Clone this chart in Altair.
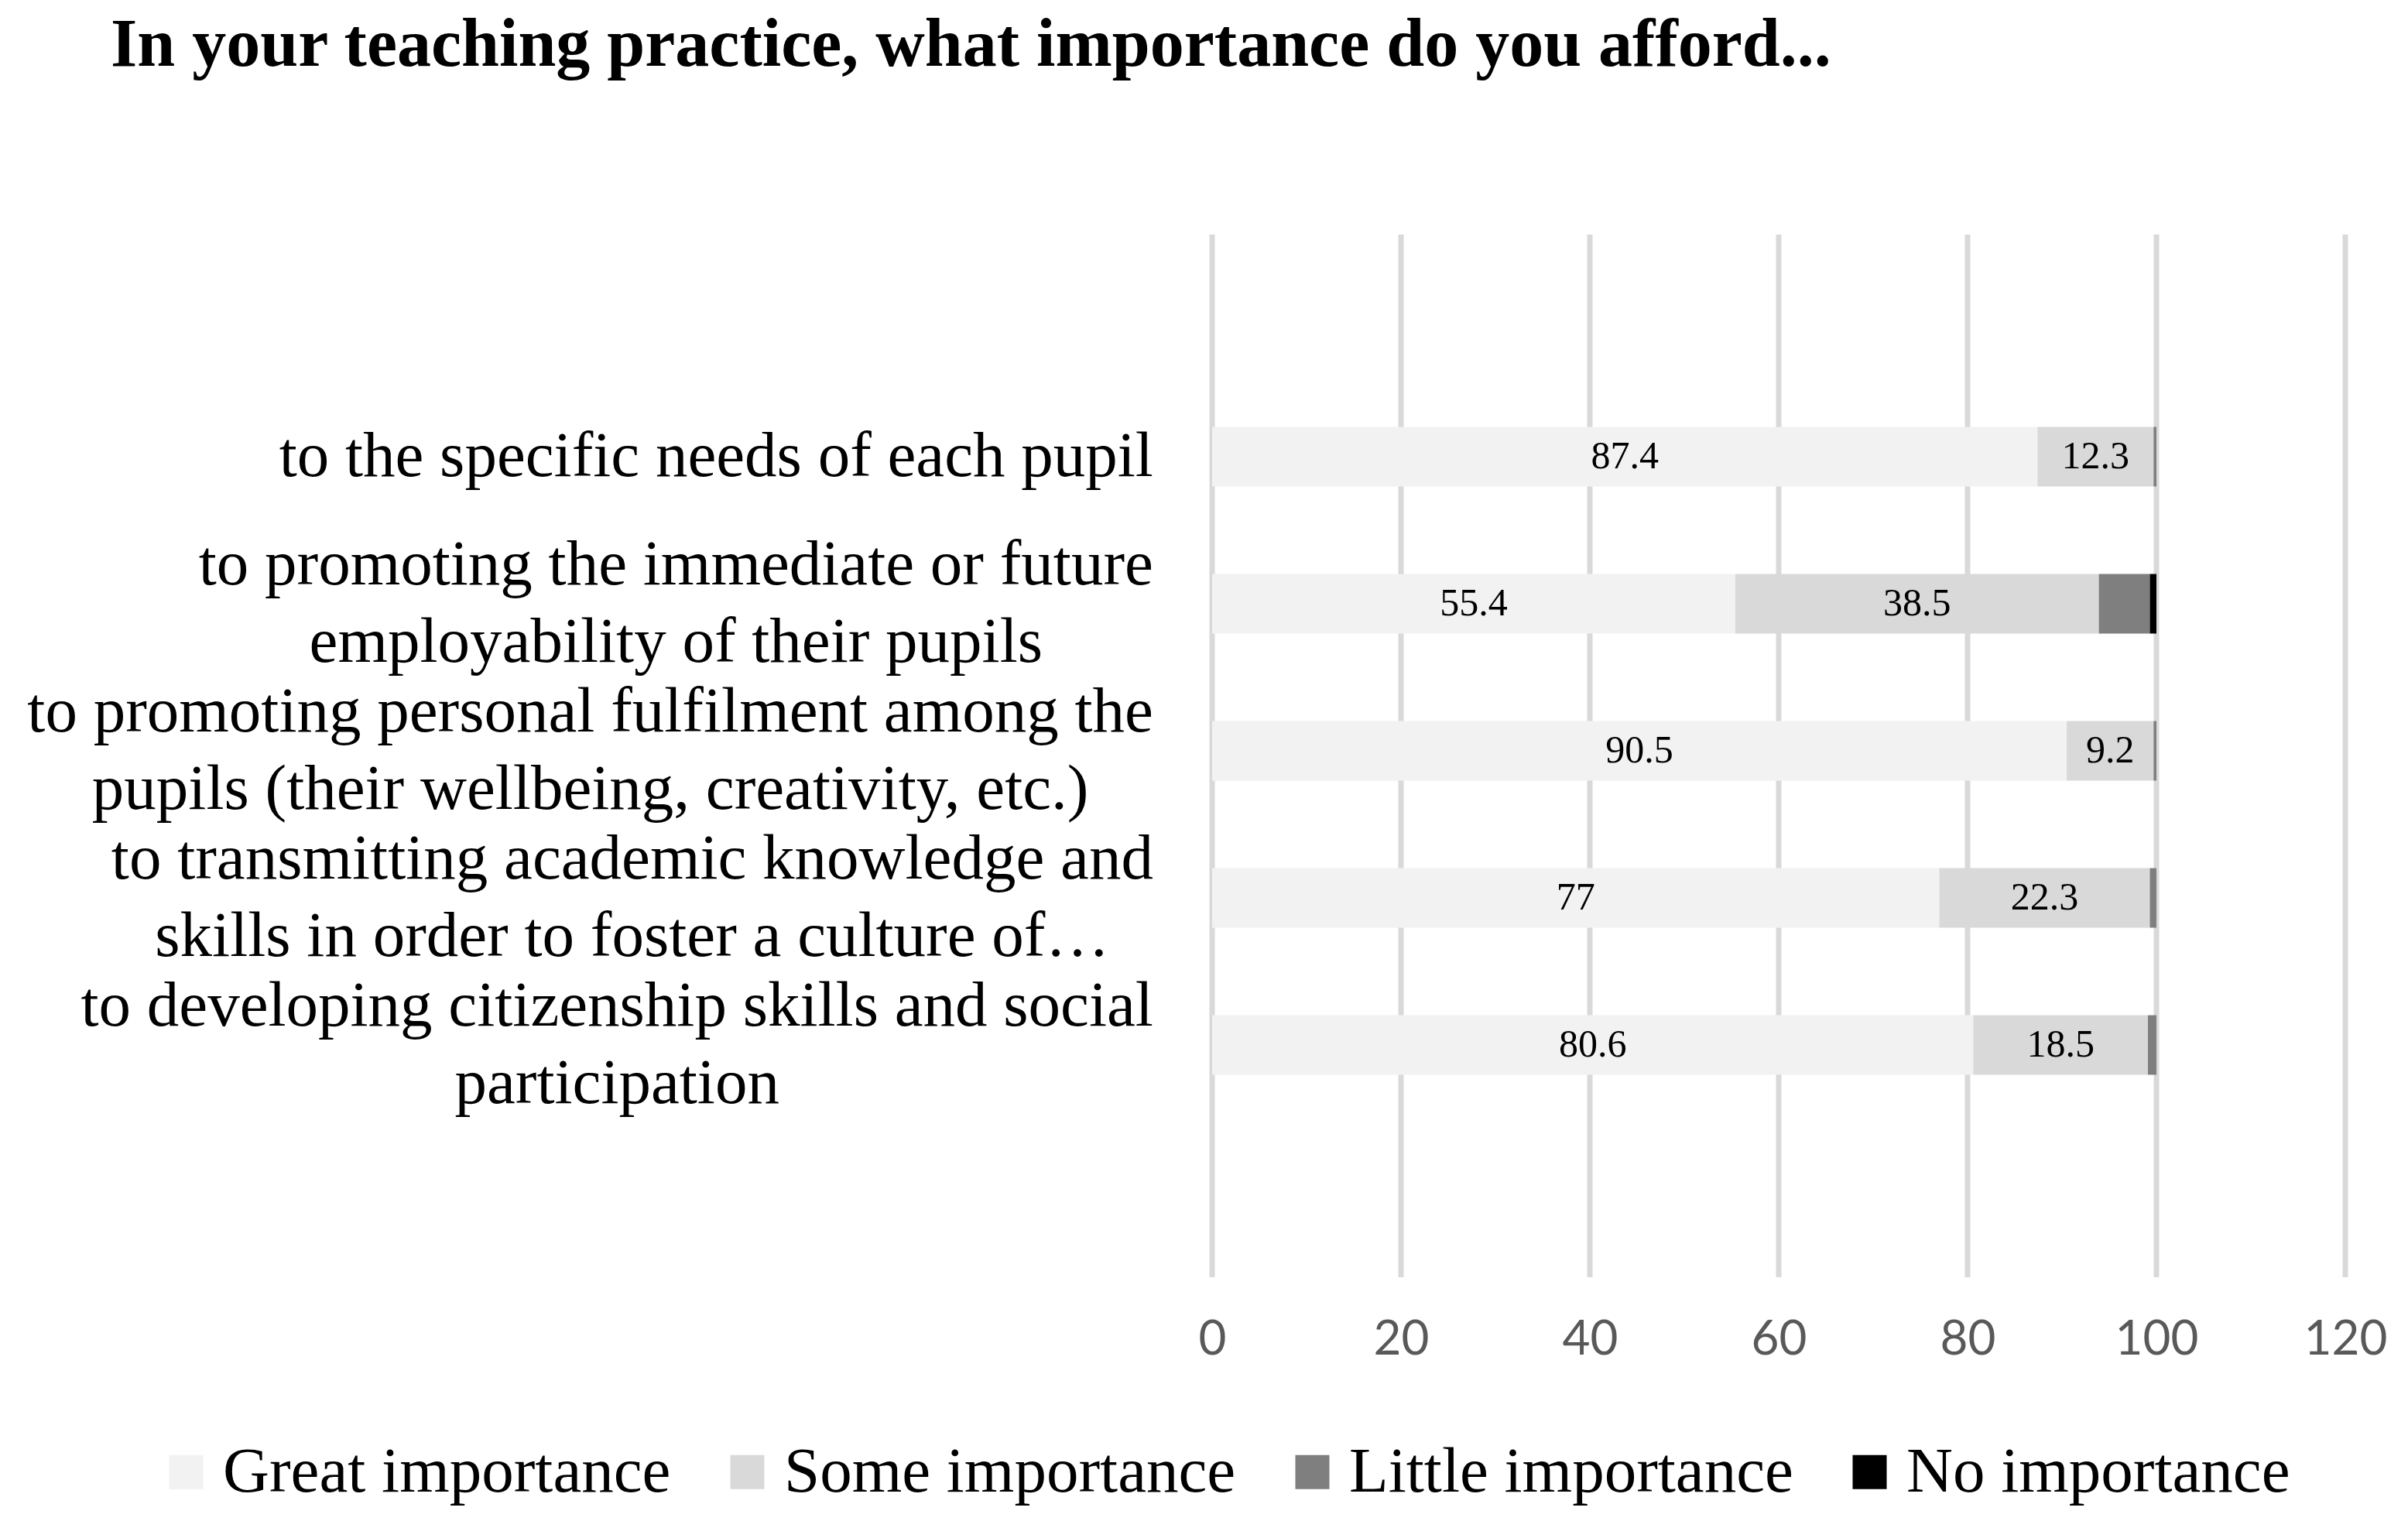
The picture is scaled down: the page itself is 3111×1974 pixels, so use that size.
import altair as alt
import pandas as pd

# ---------------- data ----------------
categories = [
    "to the specific needs of each pupil",
    "to promoting the immediate or future\nemployability of their pupils",
    "to promoting personal fulfilment among the\npupils (their wellbeing, creativity, etc.)",
    "to transmitting academic knowledge and\nskills in order to foster a culture of…",
    "to developing citizenship skills and social\nparticipation",
]
levels = ["Great importance", "Some importance", "Little importance", "No importance"]
great = [87.4, 55.4, 90.5, 77.0, 80.6]
some = [12.3, 38.5, 9.2, 22.3, 18.5]
little = [0.3, 5.4, 0.3, 0.7, 0.9]
no_imp = [0.0, 0.7, 0.0, 0.0, 0.0]
labelled_levels = ["Great importance", "Some importance"]
tick_values = [0, 20, 40, 60, 80, 100, 120]
title_text = "In your teaching practice, what importance do you afford..."

# ---------------- styles ----------------
colors = ["#f2f2f2", "#d9d9d9", "#7f7f7f", "#000000"]
SERIF = "Liberation Serif"
CAT_SIZE = 83
VAL_SIZE = 50
LINE_H = 100
PLOT_W, PLOT_H = 1464, 1347

# Times-compatible advance widths (per 1000 em) for centring label lines
TIMES = dict(a=444, b=500, c=444, d=500, e=444, f=333, g=500, h=500, i=278, j=278,
             k=500, l=278, m=778, n=500, o=500, p=500, q=500, r=333, s=389, t=278,
             u=500, v=500, w=722, x=500, y=500, z=444)
TIMES.update({" ": 250, "(": 333, ")": 333, ",": 250, ".": 250, "…": 1000})


def text_width(s, size):
    return sum(TIMES.get(ch, 500) for ch in s) / 1000.0 * size


cids = [f"c{i}" for i in range(len(categories))]
series = [great, some, little, no_imp]

rows = []
for i, cid in enumerate(cids):
    start = 0.0
    for lev, vals in zip(levels, series):
        v = vals[i]
        rows.append(dict(cid=cid, level=lev, start=start, end=start + v,
                         mid=start + v / 2.0,
                         lbl=(f"{v:g}" if lev in labelled_levels else "")))
        start += v
bars = pd.DataFrame(rows)
bars = bars[bars["end"] > bars["start"]]
vals = bars[bars["lbl"] != ""]

label_right = -76
cats = pd.DataFrame({
    "cid": cids,
    "text": categories,
    "nlines": [c.count("\n") + 1 for c in categories],
    "lx": [label_right - max(text_width(ln, CAT_SIZE) for ln in c.split("\n")) / 2.0
           for c in categories],
})
grid = pd.DataFrame({"v": tick_values})

yscale = alt.Scale(domain=cids, range=[248.5, 1085.5], paddingInner=0.595, paddingOuter=0)
xscale = alt.Scale(domain=[0, 120], nice=False)

grid_layer = alt.Chart(grid).mark_rule(color="#d9d9d9", strokeWidth=7).encode(
    x=alt.X("v:Q", scale=xscale,
            axis=alt.Axis(values=tick_values, title=None, domain=False, ticks=False,
                          grid=False, labelFont="Lato", labelFontSize=62,
                          labelColor="#595959", labelPadding=50, labelFlush=False)),
    y=alt.value(0),
    y2=alt.value(PLOT_H),
)

bar_layer = alt.Chart(bars).mark_bar(strokeWidth=0).encode(
    x=alt.X("start:Q", scale=xscale),
    x2="end:Q",
    y=alt.Y("cid:N", scale=yscale, axis=None),
    color=alt.Color("level:N", scale=alt.Scale(domain=levels, range=colors),
                    legend=alt.Legend(title=None, orient="none", direction="horizontal",
                                      legendX=-1367, legendY=1557,
                                      symbolType="square", symbolSize=1936,
                                      symbolStrokeWidth=0, labelFont=SERIF,
                                      labelFontSize=CAT_SIZE, labelColor="#000000",
                                      labelLimit=2000, labelOffset=6,
                                      columnPadding=57, padding=0)),
    order=alt.Order("start:Q"),
)

val_layer = alt.Chart(vals).mark_text(font=SERIF, fontSize=VAL_SIZE, color="#000000",
                                      baseline="middle", align="center").encode(
    x=alt.X("mid:Q", scale=xscale),
    y=alt.Y("cid:N", scale=yscale, axis=None),
    text="lbl:N",
)


def cat_text(nl):
    return alt.Chart(cats).transform_filter(alt.datum.nlines == nl).mark_text(
        font=SERIF, fontSize=CAT_SIZE, color="#000000", baseline="middle",
        align="center", lineBreak="\n", lineHeight=LINE_H,
        dy=-(nl - 1) * LINE_H / 2.0,
    ).encode(
        x=alt.X("lx:Q", scale=None),
        y=alt.Y("cid:N", scale=yscale, axis=None),
        text="text:N",
    )


chart = alt.layer(grid_layer, bar_layer, val_layer, cat_text(1), cat_text(2)).properties(
    width=PLOT_W, height=PLOT_H,
    background="#ffffff",
    autosize=alt.AutoSizeParams(type="none"),
    padding={"left": 1558, "top": 295, "right": 73, "bottom": 316},
    title=alt.TitleParams(title_text, font=SERIF, fontWeight="bold", fontSize=88,
                          color="#000000", anchor="start", frame="group",
                          dx=-1423, offset=127, baseline="alphabetic"),
).configure_view(strokeWidth=0, stroke="transparent")

chart.save("out.html", embed_options={"renderer": "svg", "actions": False})
